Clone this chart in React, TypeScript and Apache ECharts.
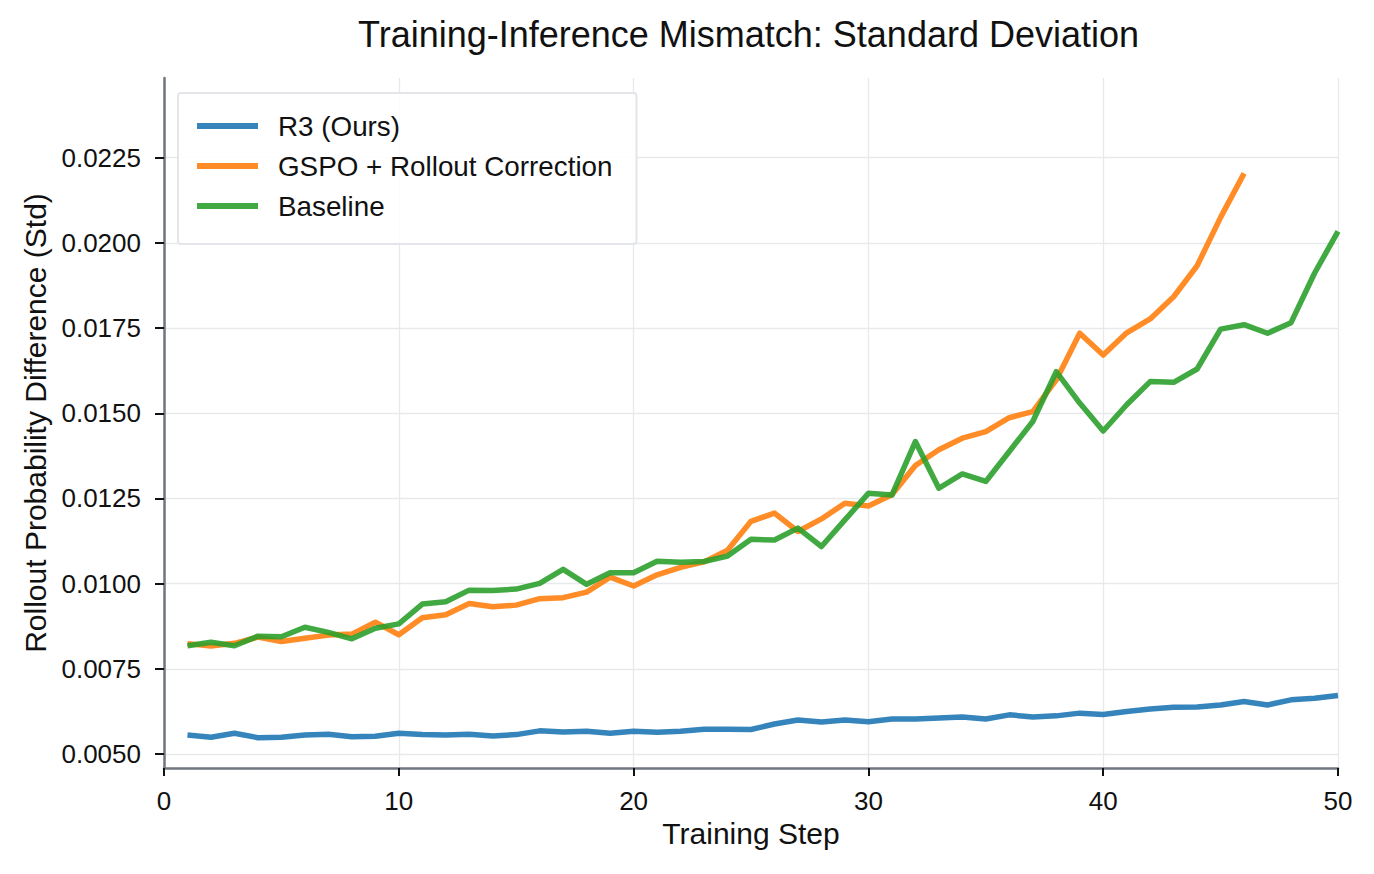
import React, { useEffect, useRef } from "react";
import * as echarts from "echarts";

const steps = Array.from({ length: 50 }, (_, i) => i + 1);

const r3Values = [
  0.00556, 0.00549, 0.00561, 0.00548, 0.00549, 0.00556, 0.00558, 0.00551, 0.00552, 0.00561,
  0.00557, 0.00556, 0.00558, 0.00553, 0.00557, 0.00568, 0.00565, 0.00567, 0.00561, 0.00567,
  0.00564, 0.00567, 0.00573, 0.00573, 0.00572, 0.00588, 0.006, 0.00594, 0.006, 0.00595,
  0.00603, 0.00603, 0.00606, 0.00609, 0.00603, 0.00615, 0.00609, 0.00612, 0.0062, 0.00616,
  0.00625, 0.00632, 0.00637, 0.00638, 0.00644, 0.00654, 0.00644, 0.00659, 0.00664, 0.00672,
];

const gspoValues = [
  0.00824, 0.00817, 0.00825, 0.00843, 0.0083, 0.0084, 0.00849, 0.00852, 0.00887, 0.0085,
  0.009, 0.00909, 0.00942, 0.00932, 0.00937, 0.00956, 0.00959, 0.00975, 0.01019, 0.00993,
  0.01026, 0.01048, 0.01064, 0.01098, 0.01183, 0.01207, 0.01153, 0.0119, 0.01236, 0.01228,
  0.01261, 0.01347, 0.01393, 0.01427, 0.01446, 0.01487, 0.01505, 0.01598, 0.01735, 0.01671,
  0.01736, 0.01777, 0.01842, 0.01933, 0.02075, 0.02204,
];

const baselineValues = [
  0.00818, 0.00828, 0.00818, 0.00846, 0.00844, 0.00872, 0.00857, 0.00838, 0.00869, 0.00882,
  0.0094, 0.00947, 0.00981, 0.0098, 0.00984, 0.01001, 0.01042, 0.00998, 0.01032, 0.01032,
  0.01066, 0.01063, 0.01065, 0.01081, 0.0113, 0.01128, 0.01163, 0.01109, 0.01187, 0.01265,
  0.0126, 0.01417, 0.0128, 0.01322, 0.013, 0.01388, 0.01476, 0.01622, 0.0153, 0.01448,
  0.01525, 0.01593, 0.01591, 0.0163, 0.01747, 0.0176, 0.01735, 0.01766, 0.01911, 0.02034,
];

const yTicks = [0.005, 0.0075, 0.01, 0.0125, 0.015, 0.0175, 0.02, 0.0225];
const seriesNames = ["R3 (Ours)", "GSPO + Rollout Correction", "Baseline"];
const seriesColors = ["rgba(31,119,180,0.9)", "rgba(255,127,14,0.9)", "rgba(44,160,44,0.9)"];

const FONT = "'Liberation Sans', Arial, Helvetica, sans-serif";

export default function App() {
  const ref = useRef<HTMLDivElement>(null);
  useEffect(() => {
    if (!ref.current) return;
    const chart = echarts.init(ref.current, null, { renderer: "svg" });
    const allValues = [r3Values, gspoValues, baselineValues];
    chart.setOption({
      animation: false,
      backgroundColor: "#ffffff",
      textStyle: { fontFamily: FONT },
      title: {
        text: "Training-Inference Mismatch: Standard Deviation",
        left: 358,
        top: 16,
        padding: 0,
        textStyle: { fontFamily: FONT, fontSize: 36, fontWeight: "normal", color: "#111" },
      },
      grid: { left: 164, right: 36, top: 78, bottom: 106, containLabel: false },
      legend: {
        orient: "vertical",
        left: 178,
        top: 93,
        padding: [19, 24, 24, 19],
        itemGap: 12,
        itemWidth: 61,
        itemHeight: 6,
        icon: "rect",
        backgroundColor: "rgba(255,255,255,0.85)",
        borderColor: "#e3e5e9",
        borderWidth: 2,
        borderRadius: 3,
        textStyle: { fontFamily: FONT, fontSize: 27.8, color: "#111", padding: [0, 0, 0, 15] },
        data: seriesNames,
      },
      xAxis: {
        type: "value",
        min: 0,
        max: 50,
        interval: 10,
        name: "Training Step",
        nameLocation: "middle",
        nameGap: 46,
        nameTextStyle: { fontFamily: FONT, fontSize: 30, color: "#111" },
        axisLine: { show: true, onZero: false, lineStyle: { color: "#70757f", width: 2.5 } },
        axisTick: { show: true, length: 8, lineStyle: { color: "#111", width: 2 } },
        axisLabel: { fontFamily: FONT, fontSize: 26, color: "#111", margin: 20 },
        splitLine: { show: true, lineStyle: { color: "#e8e9ec", width: 1.3 } },
      },
      yAxis: {
        type: "value",
        min: 0.00459,
        max: 0.02484,
        name: "Rollout Probability Difference (Std)",
        nameLocation: "middle",
        nameGap: 107,
        nameTextStyle: { fontFamily: FONT, fontSize: 30, color: "#111" },
        axisLine: { show: true, onZero: false, lineStyle: { color: "#70757f", width: 2.5 } },
        axisTick: { show: true, length: 9, customValues: yTicks, lineStyle: { color: "#111", width: 2 } },
        axisLabel: {
          fontFamily: FONT,
          fontSize: 26,
          color: "#111",
          margin: 23,
          customValues: yTicks,
          formatter: (v: number) => v.toFixed(4),
        },
        splitLine: { show: true, lineStyle: { color: "#e8e9ec", width: 1.3 } },
      },
      series: allValues.map((vals, i) => ({
        name: seriesNames[i],
        type: "line",
        data: vals.map((v, j) => [steps[j], v]),
        showSymbol: false,
        symbol: "none",
        color: seriesColors[i],
        lineStyle: { width: 5.5, color: seriesColors[i], join: "round", cap: "butt" },
        z: 2 + i,
      })),
    });
    return () => chart.dispose();
  }, []);
  return <div ref={ref} style={{ position: "absolute", left: 0, top: 0, width: 1374, height: 874 }} />;
}
